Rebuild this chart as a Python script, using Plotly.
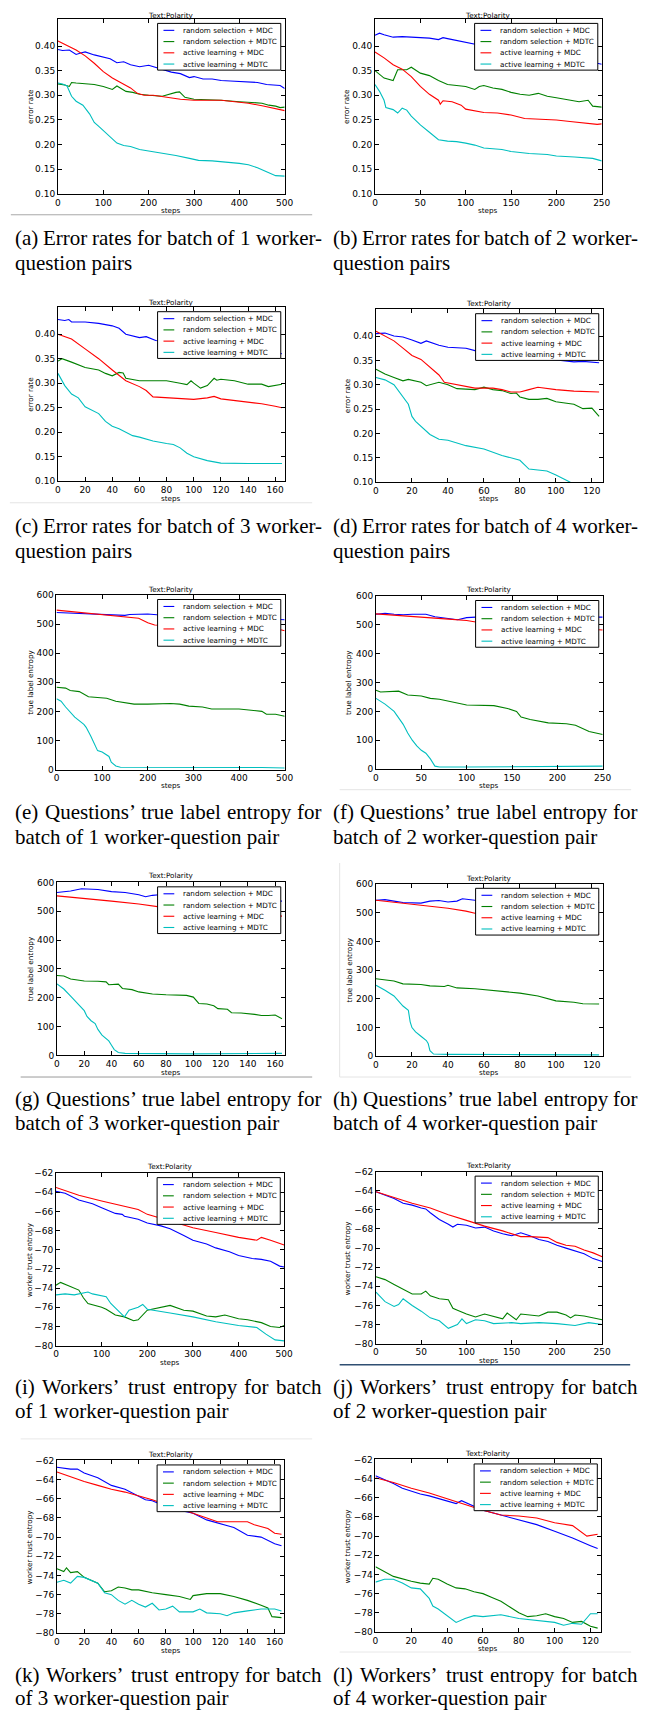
import plotly.graph_objects as go

# ---------------- data ----------------
SERIES_NAMES = ["random selection + MDC", "random selection + MDTC",
                "active learning + MDC", "active learning + MDTC"]
SERIES_COLORS = ["#0000ff", "#008000", "#ff0000", "#00bfbf"]

# (a) error rate, batch 1
a_rs_mdc_x = [0, 10, 25, 40, 50, 60, 80, 100, 115, 130, 145, 160, 180, 200, 220, 250, 270, 290, 300, 320, 340, 360, 380, 400, 420, 440, 460, 480, 490, 500]
a_rs_mdc_y = [0.393, 0.391, 0.392, 0.383, 0.386, 0.388, 0.382, 0.377, 0.374, 0.366, 0.368, 0.362, 0.358, 0.361, 0.355, 0.347, 0.344, 0.336, 0.338, 0.333, 0.333, 0.330, 0.329, 0.328, 0.328, 0.326, 0.322, 0.321, 0.320, 0.314]
a_rs_mdtc_x = [0, 15, 25, 30, 40, 60, 80, 100, 120, 130, 140, 150, 165, 180, 200, 230, 260, 268, 280, 300, 330, 360, 400, 430, 450, 465, 480, 490, 500]
a_rs_mdtc_y = [0.323, 0.321, 0.318, 0.326, 0.325, 0.324, 0.322, 0.318, 0.312, 0.319, 0.313, 0.308, 0.306, 0.302, 0.300, 0.298, 0.306, 0.307, 0.296, 0.292, 0.291, 0.290, 0.287, 0.285, 0.284, 0.280, 0.278, 0.275, 0.276]
a_al_mdc_x = [0, 20, 40, 60, 80, 100, 120, 140, 160, 175, 190, 210, 240, 270, 300, 330, 360, 390, 420, 450, 470, 490, 500]
a_al_mdc_y = [0.410, 0.401, 0.392, 0.380, 0.365, 0.348, 0.335, 0.325, 0.315, 0.304, 0.300, 0.300, 0.296, 0.292, 0.290, 0.290, 0.290, 0.287, 0.284, 0.279, 0.275, 0.271, 0.269]
a_al_mdtc_x = [0, 10, 20, 30, 40, 55, 70, 80, 90, 100, 115, 130, 145, 160, 180, 200, 230, 260, 290, 310, 340, 370, 400, 420, 440, 460, 480, 500]
a_al_mdtc_y = [0.325, 0.323, 0.319, 0.298, 0.288, 0.280, 0.262, 0.245, 0.237, 0.228, 0.216, 0.203, 0.198, 0.196, 0.190, 0.187, 0.183, 0.178, 0.172, 0.168, 0.167, 0.165, 0.162, 0.159, 0.153, 0.145, 0.137, 0.136]

# (b) error rate, batch 2
b_rs_mdc_x = [0, 5, 10, 20, 30, 40, 50, 60, 70, 75, 80, 90, 100, 110, 120, 140, 160, 180, 200, 220, 240, 250]
b_rs_mdc_y = [0.422, 0.426, 0.423, 0.418, 0.419, 0.418, 0.416, 0.416, 0.413, 0.417, 0.415, 0.411, 0.408, 0.404, 0.400, 0.395, 0.390, 0.385, 0.380, 0.374, 0.367, 0.363]
b_rs_mdtc_x = [0, 10, 20, 25, 30, 35, 40, 50, 60, 70, 80, 90, 100, 110, 115, 120, 130, 140, 150, 160, 170, 180, 190, 200, 215, 225, 235, 240, 250]
b_rs_mdtc_y = [0.350, 0.335, 0.330, 0.352, 0.352, 0.352, 0.357, 0.345, 0.340, 0.330, 0.322, 0.320, 0.318, 0.312, 0.318, 0.320, 0.315, 0.312, 0.306, 0.302, 0.300, 0.304, 0.298, 0.295, 0.290, 0.287, 0.290, 0.278, 0.276]
b_al_mdc_x = [0, 10, 20, 30, 40, 50, 60, 70, 72, 75, 85, 95, 100, 110, 120, 135, 150, 165, 180, 200, 215, 230, 245, 250]
b_al_mdc_y = [0.388, 0.376, 0.362, 0.353, 0.338, 0.318, 0.302, 0.290, 0.282, 0.289, 0.287, 0.280, 0.272, 0.268, 0.265, 0.264, 0.260, 0.253, 0.252, 0.250, 0.247, 0.244, 0.241, 0.242]
b_al_mdtc_x = [0, 5, 10, 12, 20, 25, 30, 35, 40, 50, 60, 70, 80, 90, 100, 110, 120, 130, 140, 150, 170, 190, 200, 220, 240, 250]
b_al_mdtc_y = [0.322, 0.308, 0.290, 0.275, 0.271, 0.264, 0.274, 0.270, 0.258, 0.240, 0.225, 0.210, 0.207, 0.206, 0.203, 0.199, 0.193, 0.191, 0.190, 0.186, 0.182, 0.180, 0.177, 0.175, 0.172, 0.167]

# (c) error rate, batch 3
c_rs_mdc_x = [0, 5, 8, 10, 20, 30, 40, 45, 50, 55, 60, 65, 70, 72, 80, 100, 120, 140, 155, 165]
c_rs_mdc_y = [0.430, 0.428, 0.430, 0.425, 0.425, 0.422, 0.417, 0.412, 0.400, 0.397, 0.393, 0.395, 0.390, 0.387, 0.385, 0.380, 0.374, 0.368, 0.364, 0.360]
c_rs_mdtc_x = [0, 3, 10, 20, 30, 35, 40, 45, 48, 50, 60, 70, 80, 90, 95, 98, 100, 105, 110, 115, 117, 120, 130, 140, 150, 155, 160, 165]
c_rs_mdtc_y = [0.345, 0.350, 0.343, 0.332, 0.327, 0.320, 0.315, 0.322, 0.321, 0.310, 0.305, 0.305, 0.305, 0.300, 0.297, 0.305, 0.300, 0.290, 0.295, 0.310, 0.306, 0.308, 0.305, 0.298, 0.298, 0.293, 0.296, 0.298]
c_al_mdc_x = [0, 10, 20, 30, 40, 50, 60, 65, 70, 80, 90, 100, 110, 115, 120, 130, 140, 150, 160, 165]
c_al_mdc_y = [0.400, 0.390, 0.370, 0.350, 0.327, 0.305, 0.293, 0.285, 0.272, 0.270, 0.268, 0.267, 0.270, 0.273, 0.268, 0.265, 0.262, 0.258, 0.253, 0.250]
c_al_mdtc_x = [0, 5, 10, 15, 20, 25, 30, 35, 40, 45, 50, 55, 60, 70, 80, 85, 90, 95, 100, 110, 120, 130, 140, 165]
c_al_mdtc_y = [0.320, 0.295, 0.278, 0.270, 0.252, 0.245, 0.238, 0.222, 0.212, 0.207, 0.200, 0.193, 0.190, 0.182, 0.177, 0.175, 0.168, 0.157, 0.150, 0.142, 0.137, 0.136, 0.136, 0.136]

# (d) error rate, batch 4
d_rs_mdc_x = [0, 5, 10, 15, 20, 25, 28, 30, 35, 40, 45, 50, 55, 60, 70, 80, 90, 100, 105, 110, 115, 120, 124]
d_rs_mdc_y = [0.405, 0.406, 0.400, 0.398, 0.392, 0.385, 0.390, 0.387, 0.381, 0.377, 0.376, 0.375, 0.370, 0.368, 0.364, 0.360, 0.355, 0.351, 0.349, 0.347, 0.348, 0.346, 0.345]
d_rs_mdtc_x = [0, 5, 10, 15, 18, 25, 28, 35, 40, 45, 55, 60, 65, 70, 75, 78, 80, 85, 90, 95, 100, 110, 115, 120, 124]
d_rs_mdtc_y = [0.332, 0.322, 0.315, 0.308, 0.311, 0.305, 0.298, 0.305, 0.300, 0.292, 0.290, 0.295, 0.290, 0.288, 0.282, 0.283, 0.275, 0.270, 0.270, 0.272, 0.265, 0.260, 0.251, 0.252, 0.235]
d_al_mdc_x = [0, 5, 10, 15, 20, 25, 30, 35, 38, 45, 50, 55, 65, 70, 75, 80, 85, 90, 100, 110, 124]
d_al_mdc_y = [0.410, 0.400, 0.390, 0.375, 0.360, 0.352, 0.335, 0.320, 0.305, 0.300, 0.297, 0.293, 0.293, 0.290, 0.285, 0.285, 0.290, 0.295, 0.290, 0.287, 0.285]
d_al_mdtc_x = [0, 5, 10, 15, 18, 20, 22, 30, 35, 40, 50, 60, 65, 70, 80, 85, 90, 95, 100, 108, 115, 124]
d_al_mdtc_y = [0.315, 0.310, 0.300, 0.275, 0.260, 0.235, 0.225, 0.198, 0.188, 0.186, 0.175, 0.168, 0.162, 0.155, 0.145, 0.127, 0.125, 0.123, 0.115, 0.100, 0.090, 0.080]

# (e) true label entropy, batch 1
e_rs_mdc_x = [0, 50, 100, 150, 160, 200, 220, 260, 300, 350, 400, 450, 490, 500]
e_rs_mdc_y = [540, 537, 535, 530, 533, 535, 532, 530, 528, 525, 522, 519, 516, 515]
e_rs_mdtc_x = [0, 20, 30, 50, 70, 100, 110, 130, 150, 170, 200, 250, 270, 290, 320, 340, 400, 440, 450, 460, 480, 500]
e_rs_mdtc_y = [283, 280, 272, 268, 250, 247, 245, 235, 230, 225, 225, 227, 225, 218, 215, 208, 208, 203, 200, 190, 190, 183]
e_al_mdc_x = [0, 50, 100, 150, 180, 200, 215, 250, 300, 350, 400, 450, 480, 500]
e_al_mdc_y = [548, 540, 533, 525, 520, 505, 497, 495, 494, 492, 490, 488, 485, 477]
e_al_mdtc_x = [0, 10, 20, 40, 60, 65, 75, 90, 100, 110, 115, 120, 130, 140, 200, 300, 450, 500]
e_al_mdtc_y = [243, 235, 215, 180, 155, 145, 115, 65, 60, 50, 45, 25, 12, 8, 8, 8, 7, 5]

# (f) true label entropy, batch 2
f_rs_mdc_x = [0, 10, 20, 30, 40, 55, 65, 80, 90, 100, 110, 150, 200, 250]
f_rs_mdc_y = [537, 540, 537, 535, 537, 537, 528, 522, 518, 525, 527, 527, 527, 527]
f_rs_mdtc_x = [0, 5, 25, 35, 50, 60, 70, 80, 100, 130, 145, 155, 160, 170, 190, 210, 220, 235, 250]
f_rs_mdtc_y = [273, 267, 270, 257, 253, 245, 242, 235, 222, 220, 210, 200, 180, 172, 160, 157, 152, 130, 120]
f_al_mdc_x = [0, 50, 80, 100, 110, 150, 200, 250]
f_al_mdc_y = [538, 528, 520, 515, 510, 500, 490, 482]
f_al_mdtc_x = [0, 10, 20, 30, 35, 40, 45, 50, 55, 60, 65, 70, 100, 200, 250]
f_al_mdtc_y = [245, 225, 200, 155, 125, 100, 80, 65, 55, 35, 10, 7, 7, 8, 10]

# (g) true label entropy, batch 3
g_rs_mdc_x = [0, 10, 18, 30, 40, 50, 60, 65, 70, 75, 90, 110, 130, 150, 165]
g_rs_mdc_y = [565, 570, 578, 575, 568, 565, 557, 550, 555, 557, 552, 547, 542, 538, 535]
g_rs_mdtc_x = [0, 5, 10, 20, 30, 36, 38, 45, 48, 55, 60, 70, 80, 95, 100, 104, 110, 115, 118, 125, 128, 135, 145, 150, 155, 160, 165]
g_rs_mdtc_y = [277, 275, 265, 258, 257, 255, 245, 247, 232, 228, 220, 213, 210, 208, 202, 180, 178, 172, 162, 160, 148, 147, 142, 138, 138, 140, 127]
g_al_mdc_x = [0, 20, 40, 60, 70, 75, 100, 125, 150, 165]
g_al_mdc_y = [553, 545, 535, 525, 518, 515, 505, 497, 490, 483]
g_al_mdtc_x = [0, 5, 10, 15, 20, 22, 25, 28, 30, 33, 38, 40, 42, 45, 50, 100, 165]
g_al_mdtc_y = [248, 230, 205, 180, 155, 135, 120, 110, 90, 70, 50, 35, 20, 10, 7, 5, 7]

# (h) true label entropy, batch 4
h_rs_mdc_x = [0, 5, 10, 15, 25, 30, 35, 40, 45, 48, 55, 70, 90, 110, 124]
h_rs_mdc_y = [543, 545, 540, 535, 533, 540, 542, 537, 540, 548, 543, 540, 538, 536, 535]
h_rs_mdtc_x = [0, 10, 15, 25, 30, 38, 40, 45, 55, 65, 75, 80, 90, 100, 110, 115, 124]
h_rs_mdtc_y = [270, 262, 252, 250, 245, 243, 247, 238, 235, 228, 222, 220, 210, 193, 188, 183, 182]
h_al_mdc_x = [0, 20, 40, 50, 55, 60, 80, 100, 115, 118, 124]
h_al_mdc_y = [543, 530, 515, 505, 498, 495, 475, 455, 435, 425, 425]
h_al_mdtc_x = [0, 5, 10, 15, 18, 19, 20, 22, 25, 28, 29, 30, 32, 40, 80, 124]
h_al_mdtc_y = [247, 230, 210, 175, 160, 120, 100, 85, 70, 55, 45, 20, 8, 7, 6, 5]

# (i) worker trust entropy, batch 1
i_rs_mdc_x = [0, 20, 50, 80, 100, 130, 145, 150, 180, 200, 230, 250, 280, 300, 330, 350, 380, 400, 430, 450, 470, 490, 500]
i_rs_mdc_y = [-63.9, -64.1, -64.8, -65.2, -65.6, -66.2, -66.3, -66.5, -66.8, -67.2, -67.5, -67.8, -68.5, -69.0, -69.4, -69.8, -70.2, -70.6, -70.9, -71.0, -71.2, -71.7, -71.8]
i_rs_mdtc_x = [0, 10, 30, 50, 60, 70, 100, 110, 130, 150, 170, 180, 200, 230, 250, 280, 300, 330, 350, 370, 400, 420, 450, 470, 490, 500]
i_rs_mdtc_y = [-73.7, -73.4, -73.8, -74.2, -75.0, -75.6, -76.0, -76.2, -76.8, -77.0, -77.4, -77.3, -76.3, -76.0, -75.8, -76.3, -76.4, -76.9, -77.0, -76.8, -77.2, -77.3, -77.6, -78.0, -78.1, -77.9]
i_al_mdc_x = [0, 50, 100, 150, 180, 200, 250, 300, 350, 400, 440, 450, 470, 500]
i_al_mdc_y = [-63.5, -64.3, -64.9, -65.5, -65.8, -66.3, -67.0, -67.7, -68.2, -68.7, -69.0, -68.7, -69.0, -69.5]
i_al_mdtc_x = [0, 20, 40, 50, 60, 70, 80, 110, 120, 140, 150, 160, 180, 190, 200, 250, 300, 350, 400, 440, 460, 480, 500]
i_al_mdtc_y = [-74.7, -74.6, -74.7, -74.6, -74.5, -74.4, -74.6, -74.9, -75.6, -76.5, -77.0, -76.3, -76.0, -75.7, -76.2, -76.6, -77.0, -77.5, -77.9, -78.1, -78.8, -79.4, -79.5]

# (j) worker trust entropy, batch 2
j_rs_mdc_x = [0, 20, 30, 40, 50, 55, 60, 70, 80, 85, 90, 100, 110, 120, 130, 140, 150, 160, 170, 180, 190, 200, 210, 220, 230, 240, 250]
j_rs_mdc_y = [-64.1, -64.8, -65.3, -65.5, -65.8, -65.9, -66.3, -67.0, -67.5, -67.8, -67.5, -67.6, -67.9, -67.8, -68.2, -68.5, -68.7, -68.4, -68.7, -69.1, -69.3, -69.7, -70.0, -70.3, -70.6, -71.1, -71.4]
j_rs_mdtc_x = [0, 10, 20, 30, 40, 50, 55, 60, 70, 80, 85, 90, 100, 110, 120, 140, 145, 155, 160, 180, 190, 200, 210, 215, 220, 230, 240, 250]
j_rs_mdtc_y = [-73.0, -73.3, -73.8, -74.3, -74.8, -74.8, -74.5, -75.0, -75.3, -75.4, -76.3, -76.5, -76.9, -77.2, -76.9, -77.4, -76.8, -77.5, -76.9, -77.1, -76.7, -76.7, -77.0, -77.3, -77.0, -77.1, -77.3, -77.5]
j_al_mdc_x = [0, 20, 40, 60, 80, 100, 110, 120, 140, 150, 160, 170, 190, 200, 210, 220, 230, 240, 250]
j_al_mdc_y = [-64.1, -64.7, -65.3, -65.8, -66.5, -67.1, -67.4, -67.7, -68.2, -68.5, -68.8, -68.8, -68.9, -69.4, -69.7, -69.8, -70.2, -70.5, -70.9]
j_al_mdtc_x = [0, 10, 20, 25, 30, 40, 50, 60, 70, 75, 80, 90, 95, 100, 110, 120, 130, 150, 160, 180, 200, 220, 235, 250]
j_al_mdtc_y = [-74.6, -75.6, -76.1, -75.9, -75.3, -76.0, -76.6, -77.3, -77.6, -78.0, -78.4, -78.0, -77.4, -77.9, -77.5, -77.6, -77.9, -77.8, -77.9, -77.8, -77.9, -78.1, -77.8, -78.0]

# (k) worker trust entropy, batch 3
k_rs_mdc_x = [0, 10, 15, 20, 30, 40, 50, 60, 65, 70, 80, 90, 100, 110, 120, 130, 140, 150, 160, 165]
k_rs_mdc_y = [-62.7, -62.9, -62.9, -63.3, -63.8, -64.6, -65.0, -65.7, -66.1, -66.2, -66.8, -67.2, -67.5, -68.2, -68.6, -69.0, -69.8, -70.0, -70.7, -70.9]
k_rs_mdtc_x = [0, 5, 7, 10, 15, 20, 30, 35, 40, 45, 50, 55, 60, 70, 80, 90, 98, 100, 110, 120, 130, 140, 150, 155, 158, 165]
k_rs_mdtc_y = [-73.3, -73.6, -73.2, -73.7, -73.6, -74.2, -74.8, -75.7, -75.6, -75.2, -75.3, -75.5, -75.5, -75.8, -76.0, -76.2, -76.5, -76.1, -75.9, -75.9, -76.2, -76.6, -77.1, -77.4, -78.3, -78.4]
k_al_mdc_x = [0, 10, 20, 30, 40, 50, 60, 70, 80, 90, 100, 110, 118, 130, 140, 145, 155, 160, 165]
k_al_mdc_y = [-63.2, -63.7, -64.2, -64.6, -65.0, -65.3, -65.7, -66.1, -66.6, -67.0, -67.5, -68.0, -68.4, -68.4, -68.4, -68.7, -69.1, -69.6, -69.7]
k_al_mdtc_x = [0, 5, 10, 15, 20, 30, 35, 40, 45, 50, 55, 60, 65, 70, 75, 80, 85, 90, 100, 105, 110, 120, 125, 130, 140, 150, 160, 165]
k_al_mdtc_y = [-74.7, -74.5, -74.8, -74.1, -74.2, -74.8, -75.8, -76.0, -76.6, -77.0, -76.6, -77.0, -77.3, -76.9, -77.6, -77.5, -77.2, -77.8, -77.8, -77.5, -77.9, -78.0, -78.2, -77.9, -77.7, -77.5, -77.5, -77.7]

# (l) worker trust entropy, batch 4
l_rs_mdc_x = [0, 5, 10, 15, 20, 25, 30, 40, 45, 48, 55, 60, 70, 80, 90, 100, 110, 120, 124]
l_rs_mdc_y = [-63.7, -64.1, -64.5, -65.0, -65.3, -65.6, -65.8, -66.3, -66.6, -66.3, -66.9, -67.3, -67.8, -68.3, -68.8, -69.5, -70.2, -71.0, -71.3]
l_rs_mdtc_x = [0, 5, 10, 20, 25, 30, 32, 35, 40, 45, 50, 55, 60, 65, 70, 75, 80, 85, 90, 95, 100, 105, 110, 115, 120, 124]
l_rs_mdtc_y = [-73.2, -73.7, -74.2, -74.7, -74.9, -75.0, -74.4, -74.5, -75.0, -75.4, -75.5, -75.8, -76.0, -76.4, -76.8, -77.4, -78.0, -78.4, -78.3, -78.1, -78.4, -78.6, -79.0, -78.9, -79.4, -79.6]
l_al_mdc_x = [0, 10, 20, 30, 40, 50, 60, 70, 80, 90, 100, 110, 115, 118, 124]
l_al_mdc_y = [-63.9, -64.4, -65.0, -65.5, -66.1, -66.7, -67.3, -67.8, -67.9, -68.1, -68.6, -68.9, -69.6, -70.0, -69.8]
l_al_mdtc_x = [0, 5, 10, 15, 20, 25, 30, 32, 35, 40, 45, 50, 55, 60, 70, 80, 90, 100, 105, 110, 115, 120, 124]
l_al_mdtc_y = [-74.8, -74.5, -74.5, -74.9, -75.4, -75.5, -76.5, -77.3, -77.6, -78.3, -79.0, -78.6, -78.3, -78.4, -78.2, -78.6, -78.8, -79.0, -79.3, -79.1, -79.2, -78.1, -78.1]

# tick labels
ERR_TICKS = [0.10, 0.15, 0.20, 0.25, 0.30, 0.35, 0.40]
ERR_TICKTEXT = ["0.10", "0.15", "0.20", "0.25", "0.30", "0.35", "0.40"]
ENT_TICKS = [0, 100, 200, 300, 400, 500, 600]
TRUST_TICKS = [-80, -78, -76, -74, -72, -70, -68, -66, -64, -62]

X_B1 = [0, 100, 200, 300, 400, 500]
X_B2 = [0, 50, 100, 150, 200, 250]
X_B3 = [0, 20, 40, 60, 80, 100, 120, 140, 160]
X_B4 = [0, 20, 40, 60, 80, 100, 120]

CAPTIONS = {
    "a": ("(a) Error rates for batch of 1 worker-", "question pairs"),
    "b": ("(b) Error rates for batch of 2 worker-", "question pairs"),
    "c": ("(c) Error rates for batch of 3 worker-", "question pairs"),
    "d": ("(d) Error rates for batch of 4 worker-", "question pairs"),
    "e": ("(e) Questions’ true label entropy for", "batch of 1 worker-question pair"),
    "f": ("(f) Questions’ true label entropy for", "batch of 2 worker-question pair"),
    "g": ("(g) Questions’ true label entropy for", "batch of 3 worker-question pair"),
    "h": ("(h) Questions’ true label entropy for", "batch of 4 worker-question pair"),
    "i": ("(i) Workers’ trust entropy for batch", "of 1 worker-question pair"),
    "j": ("(j) Workers’ trust entropy for batch", "of 2 worker-question pair"),
    "k": ("(k) Workers’ trust entropy for batch", "of 3 worker-question pair"),
    "l": ("(l) Workers’ trust entropy for batch", "of 4 worker-question pair"),
}

# ---------------- layout geometry (pixels) ----------------
FW, FH = 649, 1716
def px(x):
    return x / FW
def py(y):
    return 1 - y / FH

G = globals()
panels = [
    # key, (L, R, T, B), xrange, xticks, kind, title_y, steps_y, ylab_x, caption line ys
    ("a", (56, 287, 14, 190), [0, 500], X_B1, "err", 10.7, 207, 28, (234, 260)),
    ("b", (379, 610, 14, 190), [0, 250], X_B2, "err", 10.7, 207, 350, (234, 260)),
    ("c", (56, 287, 304, 479), [0, 167], X_B3, "err", 299.5, 496, 28, (524, 549)),
    ("d", (380, 611, 306, 480), [0, 126], X_B4, "err", 300, 496, 351, (524, 549)),
    ("e", (54.5, 287, 593.5, 769), [0, 500], X_B1, "ent", 587.5, 785.5, 28, (812, 837)),
    ("f", (380, 611, 594.5, 768.5), [0, 250], X_B2, "ent", 588.3, 785, 352, (812, 837)),
    ("g", (55, 287, 882.5, 1056.5), [0, 167], X_B3, "ent", 875.7, 1073.3, 28, (1100.5, 1125)),
    ("h", (380, 611, 884, 1057.5), [0, 126], X_B4, "ent", 878.3, 1074, 353, (1100.5, 1125)),
    ("i", (54, 286.5, 1175, 1348.5), [0, 500], X_B1, "tru", 1168.3, 1365.7, 27, (1390.3, 1414.7)),
    ("j", (380, 610.5, 1173.5, 1346.5), [0, 250], X_B2, "tru", 1167.3, 1363.3, 351, (1390.3, 1414.7)),
    ("k", (55, 286.5, 1464, 1637.5), [0, 167], X_B3, "tru", 1458.3, 1655, 27, (1679.7, 1703)),
    ("l", (379.5, 609.5, 1463, 1636.5), [0, 126], X_B4, "tru", 1456.7, 1652.7, 351, (1679.7, 1703)),
]

SANS = "DejaVu Sans"
SERIF = "Liberation Serif"
SMALL = 7.2
TICKF = 9

fig = go.Figure()
shapes = []
annotations = []

axis_common = dict(showline=True, linecolor="black", linewidth=1, mirror="ticks",
                   ticks="inside", ticklen=4, tickwidth=1, tickcolor="black",
                   showgrid=False, zeroline=False,
                   tickfont=dict(family=SANS, size=TICKF, color="black"))

for idx, (key, (L, R, T, B), xr, xt, kind, ty, sy, ylx, capy) in enumerate(panels):
    n = idx + 1
    xa = "x" if n == 1 else f"x{n}"
    ya = "y" if n == 1 else f"y{n}"
    xl = "xaxis" if n == 1 else f"xaxis{n}"
    yl = "yaxis" if n == 1 else f"yaxis{n}"

    for s, suffix in enumerate(["rs_mdc", "rs_mdtc", "al_mdc", "al_mdtc"]):
        fig.add_trace(go.Scatter(
            x=G[f"{key}_{suffix}_x"], y=G[f"{key}_{suffix}_y"],
            mode="lines", line=dict(color=SERIES_COLORS[s], width=1.1),
            name=SERIES_NAMES[s], showlegend=False, xaxis=xa, yaxis=ya,
            hoverinfo="skip"))

    xaxis = dict(axis_common, domain=[px(L), px(R)], range=xr, tickvals=xt,
                 anchor=ya)
    if kind == "err":
        yaxis = dict(axis_common, range=[0.10, 0.455], tickvals=ERR_TICKS,
                     ticktext=ERR_TICKTEXT)
        ylabel = "error rate"
    elif kind == "ent":
        yaxis = dict(axis_common, range=[0, 600], tickvals=ENT_TICKS)
        ylabel = "true label entropy"
    else:
        yaxis = dict(axis_common, range=[-80, -62], tickvals=TRUST_TICKS)
        ylabel = "worker trust entropy"
    yaxis.update(domain=[py(B), py(T)], anchor=xa)
    fig.update_layout({xl: xaxis, yl: yaxis})

    cx = (L + R) / 2
    annotations.append(dict(text="Text:Polarity", x=px(cx), y=py(ty), xref="paper", yref="paper",
                            xanchor="center", yanchor="middle", showarrow=False,
                            font=dict(family=SANS, size=SMALL, color="black")))
    annotations.append(dict(text="steps", x=px(cx), y=py(sy), xref="paper", yref="paper",
                            xanchor="center", yanchor="middle", showarrow=False,
                            font=dict(family=SANS, size=SMALL, color="black")))
    annotations.append(dict(text=ylabel, x=px(ylx), y=py((T + B) / 2), xref="paper", yref="paper",
                            xanchor="center", yanchor="middle", showarrow=False, textangle=-90,
                            font=dict(family=SANS, size=SMALL, color="black")))

    # legend box
    lx1 = R - 4
    lx0 = lx1 - 125.5
    ly0 = T + 4.5
    ly1 = ly0 + 47
    shapes.append(dict(type="rect", xref="paper", yref="paper", x0=px(lx0), x1=px(lx1),
                       y0=py(ly1), y1=py(ly0), fillcolor="white",
                       line=dict(color="black", width=1), layer="above"))
    for s in range(4):
        ry = ly0 + 7 + s * 11.3
        shapes.append(dict(type="line", xref="paper", yref="paper", x0=px(lx0 + 6), x1=px(lx0 + 17),
                           y0=py(ry), y1=py(ry), line=dict(color=SERIES_COLORS[s], width=1.1),
                           layer="above"))
        annotations.append(dict(text=SERIES_NAMES[s], x=px(lx0 + 25), y=py(ry), xref="paper",
                                yref="paper", xanchor="left", yanchor="middle", showarrow=False,
                                borderpad=0, font=dict(family=SANS, size=SMALL, color="black")))

# ---------------- captions ----------------
TW = {" ": 250, "(": 333, ")": 333, "-": 333, "’": 333, "E": 611, "Q": 722, "W": 944,
      "1": 500, "2": 500, "3": 500, "4": 500,
      "a": 444, "b": 500, "c": 444, "d": 500, "e": 444, "f": 333, "g": 500, "h": 500,
      "i": 278, "j": 278, "k": 500, "l": 278, "m": 778, "n": 500, "o": 500, "p": 500,
      "q": 500, "r": 333, "s": 389, "t": 278, "u": 500, "v": 500, "w": 722, "x": 500,
      "y": 500, "z": 444}
CAP_SIZE = 21

def word_w(w):
    return sum(TW.get(c, 500) for c in w) / 1000 * CAP_SIZE

cap_font = dict(family=SERIF, size=CAP_SIZE, color="black")
for idx, (key, area, xr, xt, kind, ty, sy, ylx, capy) in enumerate(panels):
    left = idx % 2 == 0
    x0 = 11 if left else 335
    x1 = 323 if left else 645
    line1, line2 = CAPTIONS[key]
    words = line1.split(" ")
    widths = [word_w(w) for w in words]
    gap = (x1 - x0 - sum(widths)) / (len(words) - 1)
    cur = x0
    for w, wd in zip(words, widths):
        annotations.append(dict(text=w, x=px(cur), y=py(capy[0]), xref="paper", yref="paper",
                                xanchor="left", yanchor="middle", showarrow=False, borderpad=0,
                                font=cap_font))
        cur += wd + gap
    annotations.append(dict(text=line2.replace(" ", "\u00a0"), x=px(x0), y=py(capy[1]), xref="paper",
                            yref="paper", xanchor="left", yanchor="middle", showarrow=False,
                            borderpad=0, font=cap_font))

# ---------------- separator rules from the source layout ----------------
def hline(y, xa, xb, color, width=1):
    shapes.append(dict(type="line", xref="paper", yref="paper", x0=px(xa), x1=px(xb),
                       y0=py(y), y1=py(y), line=dict(color=color, width=width), layer="below"))

hline(211, 8, 315, "#a8a8a8")
hline(500.7, 7, 315, "#e4e4e4")
hline(789.3, 343, 640, "#e4e4e4")
hline(1078.3, 18, 315, "#9a9a9a")
hline(1078.3, 343, 640, "#e4e4e4")
shapes.append(dict(type="line", xref="paper", yref="paper", x0=px(343), x1=px(343),
                   y0=py(1078.3), y1=py(863), line=dict(color="#e4e4e4", width=1), layer="below"))
hline(1367.7, 343, 639, "#2f4f72", 1.5)
hline(1442.3, 18, 315, "#e8e8e8")
hline(1656.7, 343, 640, "#e8e8e8")

fig.update_layout(width=FW, height=FH, margin=dict(l=0, r=0, t=0, b=0),
                  paper_bgcolor="white", plot_bgcolor="white", showlegend=False,
                  shapes=shapes, annotations=annotations)

fig.write_html("out.html", config={"displayModeBar": False},
               post_script="document.body.style.margin='0';document.body.style.padding='0';")
